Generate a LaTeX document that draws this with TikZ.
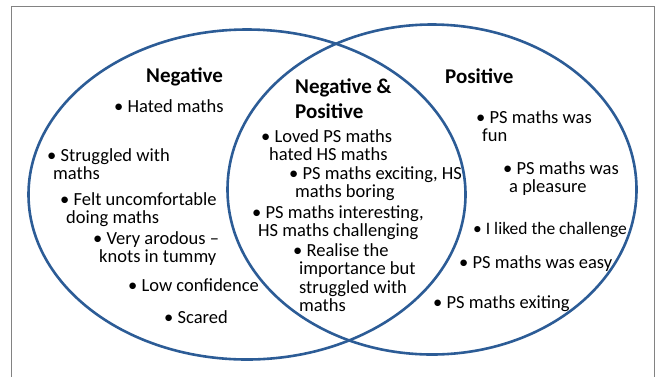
\documentclass[tikz,border=0pt]{standalone}
\usepackage{fontspec}
\setmainfont{Carlito}
\usepackage{tikz}
\usetikzlibrary{calc}

\definecolor{vennblue}{RGB}{44,92,150}
\definecolor{framegray}{RGB}{130,130,130}

\newcommand{\entryfont}{\fontsize{18.5}{18.5}\selectfont}
\newcommand{\headfont}{\fontsize{21}{25}\selectfont\bfseries}
\newcommand{\ind}{\hspace*{6pt}}
% lines hang from the baseline of the first one
\newcommand{\lines}[1]{\begin{tabular}[t]{@{}l@{}}#1\end{tabular}}

\begin{document}
\begin{tikzpicture}[x=1pt, y=-1pt,
    venn/.style={draw=vennblue, line width=2.6pt},
    heading/.style={font=\headfont, anchor=base west, inner sep=0pt},
    entry/.style={font=\entryfont, anchor=base west, inner sep=0pt}]
  \useasboundingbox (0,0) rectangle (660,376);

  % Draw the frame
  \draw[framegray, line width=0.8pt] (11,6) rectangle (654,400);

  % Draw the two sets
  \draw[venn] (247,194.5) ellipse [x radius=218.5, y radius=165];
  \draw[venn] (432,189.5) ellipse [x radius=204.5, y radius=165];

  % Label the sets
  \node[heading] (negtitle) at (146,82) {Negative};
  \node[heading] (bothtitle) at (295,93) {\lines{Negative \&\\Positive}};
  \node[heading] (postitle) at (445,83) {Positive};

  % Negative only
  \node[entry] (hated) at (114,112) {\textbullet\ Hated maths};
  \node[entry] (struggled) at (47,161) {\lines{\textbullet\ Struggled with\\\ind maths}};
  \node[entry] (uncomf) at (60,205) {\lines{\textbullet\ Felt uncomfortable\\\ind doing maths}};
  \node[entry] (arodous) at (93,244) {\lines{\textbullet\ Very arodous --\\\ind knots in tummy}};
  \node[entry] (lowconf) at (128,291) {\textbullet\ Low confidence};
  \node[entry] (scared) at (164,323) {\textbullet\ Scared};

  % Negative and positive
  \node[entry] (loved) at (261,142) {\lines{\textbullet\ Loved PS maths\\\hspace*{8pt}hated HS maths}};
  \node[entry] (exciting) at (289,179) {\lines{\textbullet\ PS maths exciting, HS\\\ind maths boring}};
  \node[entry] (interest) at (252,218) {\lines{\textbullet\ PS maths interesting,\\\ind HS maths challenging}};
  \node[entry] (realise) at (293,256) {\lines{\textbullet\ Realise the\\\ind importance but\\\ind struggled with\\\ind maths}};

  % Positive only
  \node[entry] (fun) at (476,123) {\lines{\textbullet\ PS maths was\\\ind fun}};
  \node[entry] (pleasure) at (503,174) {\lines{\textbullet\ PS maths was\\\ind a pleasure}};
  \node[entry, font=\fontsize{17.5}{18.5}\selectfont] (challenge) at (473,234) {\textbullet\ I liked the challenge};
  \node[entry] (easy) at (459,268) {\textbullet\ PS maths was easy};
  \node[entry] (exiting) at (433,308) {\textbullet\ PS maths exiting};
\end{tikzpicture}
\end{document}
